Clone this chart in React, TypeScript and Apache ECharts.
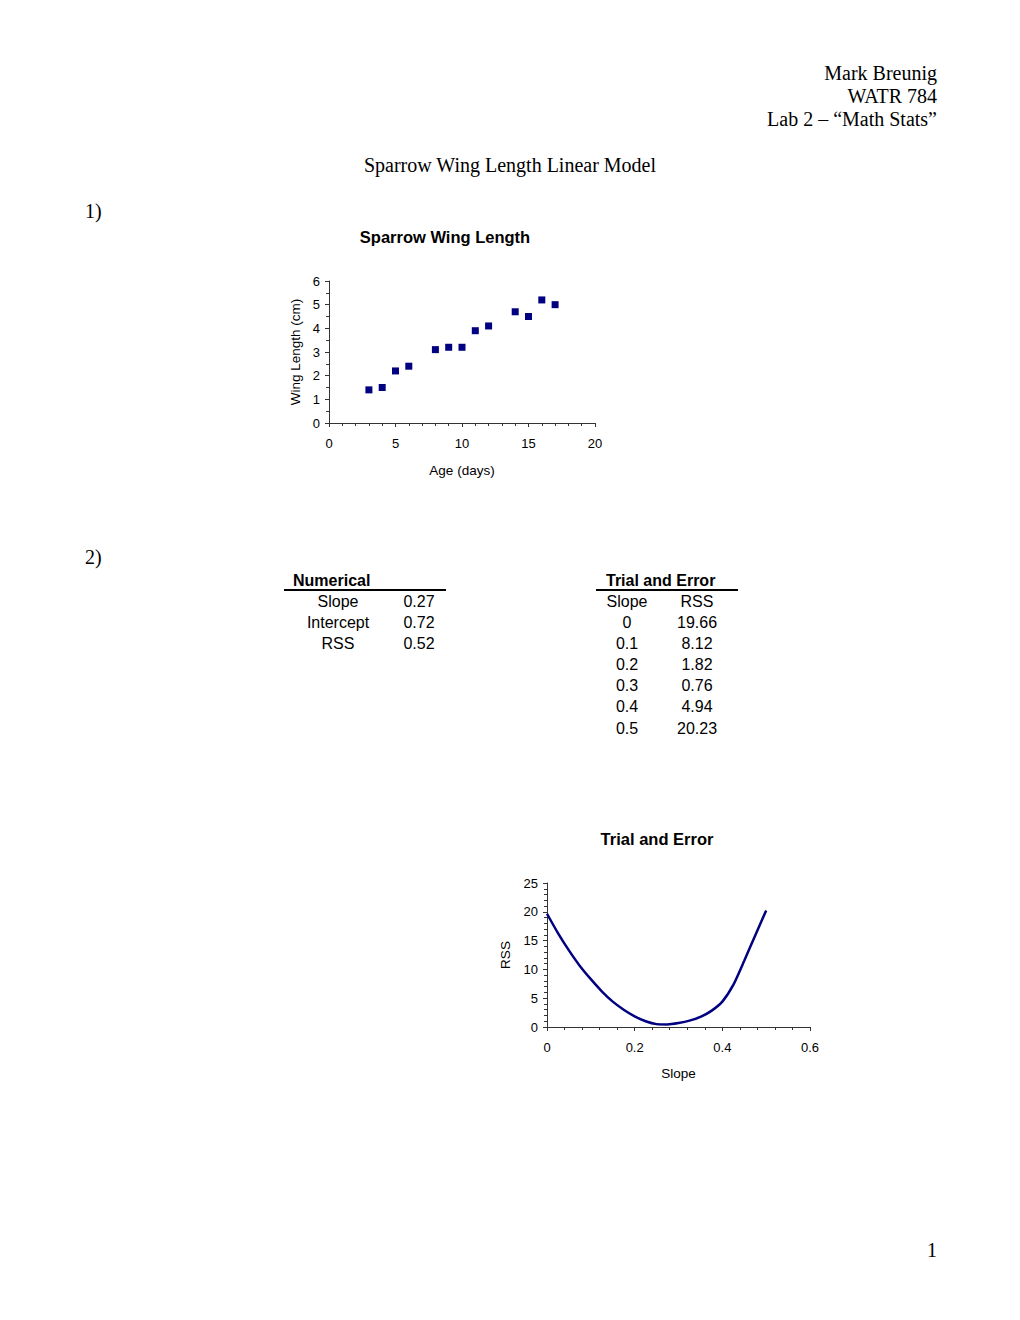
import React, { useEffect, useRef } from "react";
import * as echarts from "echarts";

// ---- Data ----
const ageDays = [3, 4, 5, 6, 8, 9, 10, 11, 12, 14, 15, 16, 17];
const wingLength = [1.4, 1.5, 2.2, 2.4, 3.1, 3.2, 3.2, 3.9, 4.1, 4.7, 4.5, 5.2, 5.0];

const numericalLabels = ["Slope", "Intercept", "RSS"];
const numericalValues = ["0.27", "0.72", "0.52"];

const trialSlopes = ["0", "0.1", "0.2", "0.3", "0.4", "0.5"];
const trialRss = ["19.66", "8.12", "1.82", "0.76", "4.94", "20.23"];

const curveSlope = [0, 0.025, 0.05, 0.075, 0.1, 0.125, 0.15, 0.175, 0.2, 0.225, 0.25, 0.275, 0.3, 0.325, 0.35, 0.375, 0.4, 0.425, 0.45, 0.475, 0.5];
const curveRss = [19.66, 16.3, 13.3, 10.6, 8.3, 6.2, 4.4, 3.0, 1.85, 1.0, 0.5, 0.45, 0.7, 1.1, 1.75, 2.8, 4.4, 7.3, 11.5, 15.9, 20.23];

const headerLines = ["Mark Breunig", "WATR 784", "Lab 2 \u2013 \u201cMath Stats\u201d"];

const SERIF = "'Liberation Serif', 'Times New Roman', serif";
const SANS = "'Liberation Sans', Arial, sans-serif";
const NAVY = "#000080";
const AXIS = "#333333";

function txt(text: string, x: number, y: number, opts: any = {}) {
  return {
    type: "text",
    x,
    y,
    silent: true,
    style: {
      text,
      fill: "#000",
      fontFamily: opts.fontFamily || SANS,
      fontSize: opts.fontSize || 16,
      fontWeight: opts.fontWeight || "normal",
      textAlign: opts.align || "left",
      textVerticalAlign: "middle",
      align: opts.align || "left",
      verticalAlign: "middle",
    },
  };
}

function hline(x1: number, x2: number, y: number, w = 2) {
  return {
    type: "line",
    silent: true,
    shape: { x1, y1: y, x2, y2: y },
    style: { stroke: "#000", lineWidth: w },
  };
}

function axisCommon(extra: any) {
  return {
    splitLine: { show: false },
    axisLine: { show: true, onZero: false, lineStyle: { color: AXIS, width: 1 } },
    axisTick: { show: true, length: 4, lineStyle: { color: AXIS } },
    nameTextStyle: { color: "#000", fontSize: 13.5, fontFamily: SANS },
    nameLocation: "middle",
    ...extra,
  };
}

export default function App() {
  const ref = useRef<HTMLDivElement>(null);

  useEffect(() => {
    if (!ref.current) return;
    const chart = echarts.init(ref.current, undefined, { renderer: "svg" });

    const graphics: any[] = [];
    headerLines.forEach((t, i) => graphics.push(txt(t, 937, 73 + i * 23, { fontFamily: SERIF, fontSize: 20, align: "right" })));
    graphics.push(txt("Sparrow Wing Length Linear Model", 510, 165, { fontFamily: SERIF, fontSize: 20, align: "center" }));
    graphics.push(txt("1)", 85, 211, { fontFamily: SERIF, fontSize: 20 }));
    graphics.push(txt("2)", 85, 557, { fontFamily: SERIF, fontSize: 20 }));
    graphics.push(txt("1", 932, 1250, { fontFamily: SERIF, fontSize: 20, align: "center" }));

    // Chart titles
    graphics.push(txt("Sparrow Wing Length", 445, 237, { fontWeight: "bold", fontSize: 16.5, align: "center" }));
    graphics.push(txt("Trial and Error", 657, 839, { fontWeight: "bold", fontSize: 16.5, align: "center" }));

    // Numerical table
    graphics.push(txt("Numerical", 293, 580, { fontWeight: "bold" }));
    graphics.push(hline(284, 446, 590));
    numericalLabels.forEach((l, i) => {
      graphics.push(txt(l, 338, 601 + i * 21, { align: "center" }));
      graphics.push(txt(numericalValues[i], 419, 601 + i * 21, { align: "center" }));
    });

    // Trial and Error table
    graphics.push(txt("Trial and Error", 606, 580, { fontWeight: "bold" }));
    graphics.push(hline(596, 738, 590));
    graphics.push(txt("Slope", 627, 601, { align: "center" }));
    graphics.push(txt("RSS", 697, 601, { align: "center" }));
    trialSlopes.forEach((s, i) => {
      graphics.push(txt(s, 627, 622 + i * 21.2, { align: "center" }));
      graphics.push(txt(trialRss[i], 697, 622 + i * 21.2, { align: "center" }));
    });

    chart.setOption({
      animation: false,
      backgroundColor: "#ffffff",
      grid: [
        { left: 329, top: 281, width: 266, height: 142, containLabel: false },
        { left: 547, top: 883, width: 263, height: 144, containLabel: false },
      ],
      xAxis: [
        axisCommon({
          gridIndex: 0,
          type: "value",
          min: 0,
          max: 20,
          interval: 5,
          name: "Age (days)",
          nameGap: 40,
          axisLabel: { color: "#000", fontSize: 13, fontFamily: SANS, margin: 14 },
          minorTick: { show: true, splitNumber: 5, length: 3, lineStyle: { color: AXIS } },
        }),
        axisCommon({
          gridIndex: 1,
          type: "value",
          min: 0,
          max: 0.6,
          interval: 0.2,
          name: "Slope",
          nameGap: 39,
          axisLabel: { color: "#000", fontSize: 13, fontFamily: SANS, margin: 14 },
          minorTick: { show: true, splitNumber: 5, length: 3, lineStyle: { color: AXIS } },
        }),
      ],
      yAxis: [
        axisCommon({
          gridIndex: 0,
          type: "value",
          min: 0,
          max: 6,
          interval: 1,
          name: "Wing Length (cm)",
          nameGap: 27,
          axisLabel: { color: "#000", fontSize: 13, fontFamily: SANS, margin: 9 },
          minorTick: { show: true, splitNumber: 2, length: 3, lineStyle: { color: AXIS } },
        }),
        axisCommon({
          gridIndex: 1,
          type: "value",
          min: 0,
          max: 25,
          interval: 5,
          name: "RSS",
          nameGap: 35,
          axisLabel: { color: "#000", fontSize: 13, fontFamily: SANS, margin: 9 },
          minorTick: { show: true, splitNumber: 5, length: 3, lineStyle: { color: AXIS } },
        }),
      ],
      series: [
        {
          type: "scatter",
          xAxisIndex: 0,
          yAxisIndex: 0,
          symbol: "rect",
          symbolSize: 7,
          itemStyle: { color: NAVY, opacity: 1 },
          data: ageDays.map((a, i) => [a, wingLength[i]]),
        },
        {
          type: "line",
          xAxisIndex: 1,
          yAxisIndex: 1,
          showSymbol: false,
          symbol: "none",
          smooth: 0.2,
          lineStyle: { color: NAVY, width: 2.5 },
          data: curveSlope.map((s, i) => [s, curveRss[i]]),
        },
      ],
      graphic: graphics,
    });

    return () => chart.dispose();
  }, []);

  return (
    <div
      ref={ref}
      style={{ position: "absolute", left: 0, top: 0, width: 1020, height: 1320, background: "#fff" }}
    />
  );
}
